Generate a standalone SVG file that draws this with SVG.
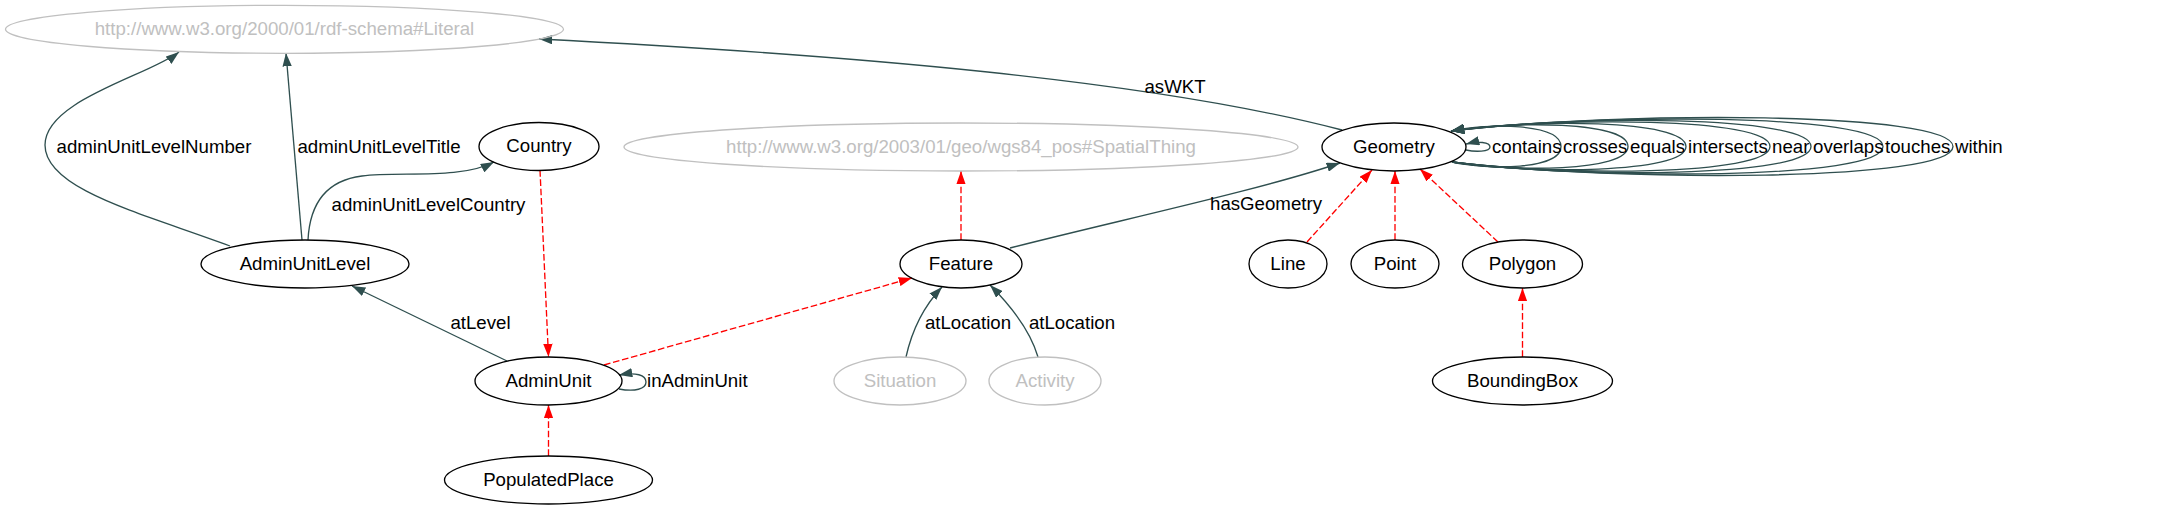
<svg xmlns="http://www.w3.org/2000/svg" width="2179" height="509" viewBox="0 0 2179 509">
<style>
text{font-family:"Liberation Sans",Arial,sans-serif;font-size:18.67px;fill:#000}
.n ellipse{fill:none;stroke:#000;stroke-width:1.33}
.g ellipse{fill:none;stroke:#c0c0c0;stroke-width:1.33}
.g text{fill:#c0c0c0}
.n text,.g text{text-anchor:middle}
.e{fill:none;stroke:#2f4f4f;stroke-width:1.33;marker-end:url(#ah)}
.s{fill:none;stroke:#ff0000;stroke-width:1.33;stroke-dasharray:6.67,2.67;marker-end:url(#ar)}
.lm{text-anchor:middle}
</style>
<defs>
<marker id="ah" markerUnits="userSpaceOnUse" markerWidth="13.33" markerHeight="9.33" viewBox="0 0 13.33 9.33" refX="13.33" refY="4.67" orient="auto"><path d="M0,0 L13.33,4.67 L0,9.33 Z" fill="#2f4f4f"/></marker>
<marker id="ar" markerUnits="userSpaceOnUse" markerWidth="13.33" markerHeight="9.33" viewBox="0 0 13.33 9.33" refX="13.33" refY="4.67" orient="auto"><path d="M0,0 L13.33,4.67 L0,9.33 Z" fill="#ff0000"/></marker>
</defs>
<rect width="2179" height="509" fill="#fff"/>
<g id="edges">
<path class="e" d="M1342,130 C1150,80 850,55 539,39"/>
<path class="e" d="M230,246 C145,214 45,190 45,145 C45,100 150,75 179,52"/>
<path class="e" d="M302,240 L286,53"/>
<path class="e" d="M308,240 C310,200 330,180 362,176 C400,171 460,180 494,162"/>
<path class="e" d="M507,361 L352,286"/>
<path class="e" d="M619,389 C635,392 646,389 646,382 C646,375 636,372 619,375"/>
<path class="e" d="M906,357 C912,330 925,305 942,287"/>
<path class="e" d="M1038,357 C1030,330 1010,305 990,285"/>
<path class="e" d="M1010,248 C1120,220 1260,190 1340,163"/>
<path class="e" d="M1466,150 C1475,152 1490,152 1490,147 C1490,142 1478,141 1466,144"/>
<path class="e" d="M1452,162 C1488,170 1561,170 1561,146.5 C1561,123 1488,123 1451,131"/>
<path class="e" d="M1452,162 C1511,172 1628,172 1628,146.5 C1628,121 1511,121 1451,131"/>
<path class="e" d="M1452,162 C1530,174 1686,174 1686,146.5 C1686,119 1530,119 1451,131"/>
<path class="e" d="M1452,162 C1558,176 1770,176 1770,146.5 C1770,117 1558,117 1451,131"/>
<path class="e" d="M1452,162 C1572,178 1811,178 1811,146.5 C1811,115 1572,115 1451,131"/>
<path class="e" d="M1452,162 C1596,180 1883,180 1883,146.5 C1883,113 1596,113 1451,131"/>
<path class="e" d="M1452,162 C1619,182 1953,182 1953,146.5 C1953,111 1619,111 1451,131"/>
<path class="s" d="M1307,242 L1372,170"/>
<path class="s" d="M1395,240 L1395,171"/>
<path class="s" d="M1498,242 L1420,169"/>
<path class="s" d="M1522.5,357 L1522.5,288"/>
<path class="s" d="M540,170 L548.5,357"/>
<path class="s" d="M548.5,456 L548.5,405"/>
<path class="s" d="M604,365 L912,278"/>
<path class="s" d="M961,240 L961,171"/>
<text x="1175" y="93" class="lm">asWKT</text>
<text x="154" y="153" class="lm">adminUnitLevelNumber</text>
<text x="379" y="153" class="lm">adminUnitLevelTitle</text>
<text x="428.5" y="211" class="lm">adminUnitLevelCountry</text>
<text x="480.5" y="329" class="lm">atLevel</text>
<text x="647" y="387">inAdminUnit</text>
<text x="968" y="329" class="lm">atLocation</text>
<text x="1072" y="329" class="lm">atLocation</text>
<text x="1266" y="210" class="lm">hasGeometry</text>
<text x="1492" y="153">contains</text>
<text x="1563" y="153">crosses</text>
<text x="1630" y="153">equals</text>
<text x="1688" y="153">intersects</text>
<text x="1772" y="153">near</text>
<text x="1813" y="153">overlaps</text>
<text x="1885" y="153">touches</text>
<text x="1955" y="153">within</text>
</g>
<g id="Literal" class="g"><ellipse cx="284.5" cy="29.3" rx="279" ry="24"/><text x="284.5" y="35">http://www.w3.org/2000/01/rdf-schema#Literal</text></g>
<g id="SpatialThing" class="g"><ellipse cx="961" cy="147" rx="337" ry="24"/><text x="961" y="152.6">http://www.w3.org/2003/01/geo/wgs84_pos#SpatialThing</text></g>
<g id="Country" class="n"><ellipse cx="539" cy="146.5" rx="60" ry="24"/><text x="539" y="152">Country</text></g>
<g id="AdminUnitLevel" class="n"><ellipse cx="305" cy="264" rx="104" ry="24"/><text x="305" y="269.6">AdminUnitLevel</text></g>
<g id="AdminUnit" class="n"><ellipse cx="548.5" cy="381" rx="73.5" ry="24"/><text x="548.5" y="386.6">AdminUnit</text></g>
<g id="PopulatedPlace" class="n"><ellipse cx="548.5" cy="480" rx="104" ry="24"/><text x="548.5" y="485.6">PopulatedPlace</text></g>
<g id="Feature" class="n"><ellipse cx="961" cy="264" rx="61" ry="24"/><text x="961" y="269.6">Feature</text></g>
<g id="Situation" class="g"><ellipse cx="900" cy="381" rx="66" ry="24"/><text x="900" y="386.6">Situation</text></g>
<g id="Activity" class="g"><ellipse cx="1045" cy="381" rx="56" ry="24"/><text x="1045" y="386.6">Activity</text></g>
<g id="Geometry" class="n"><ellipse cx="1394" cy="147" rx="72" ry="24"/><text x="1394" y="152.6">Geometry</text></g>
<g id="Line" class="n"><ellipse cx="1288" cy="264" rx="39" ry="24"/><text x="1288" y="269.6">Line</text></g>
<g id="Point" class="n"><ellipse cx="1395" cy="264" rx="44" ry="24"/><text x="1395" y="269.6">Point</text></g>
<g id="Polygon" class="n"><ellipse cx="1522.5" cy="264" rx="60" ry="24"/><text x="1522.5" y="269.6">Polygon</text></g>
<g id="BoundingBox" class="n"><ellipse cx="1522.5" cy="381" rx="90" ry="24"/><text x="1522.5" y="386.6">BoundingBox</text></g>
</svg>
